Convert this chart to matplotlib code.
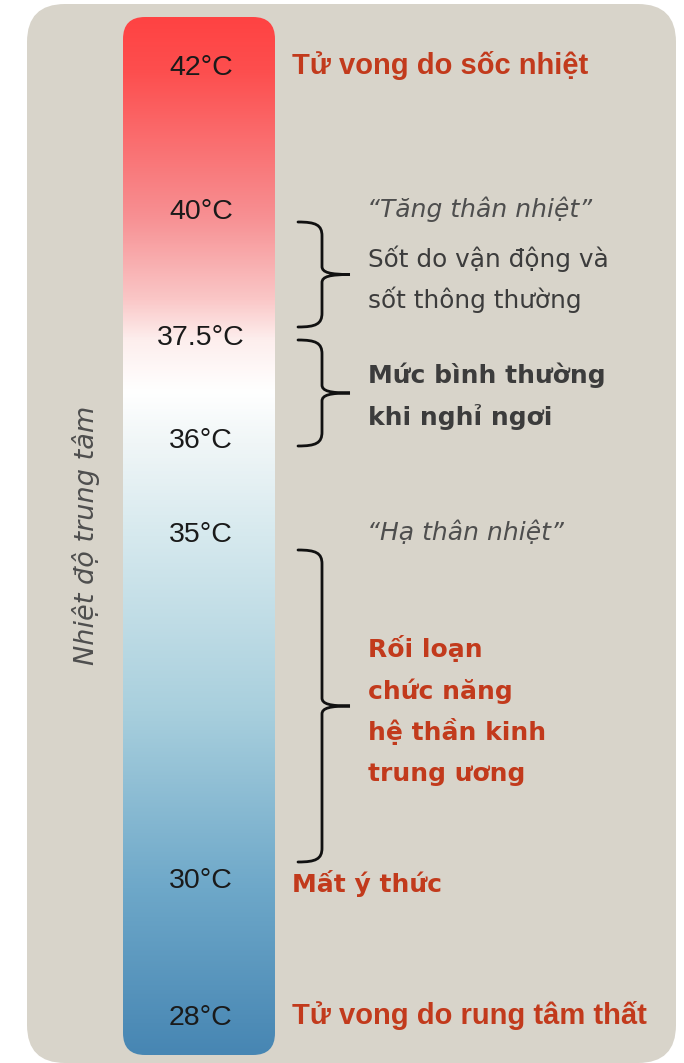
import numpy as np
import matplotlib
matplotlib.use('Agg')
import matplotlib.pyplot as plt
from matplotlib.patches import FancyBboxPatch, PathPatch
from matplotlib.path import Path
from matplotlib.colors import LinearSegmentedColormap

# ===================== DATA =====================
temps = [42, 40, 37.5, 36, 35, 30, 28]
temp_labels = ['42°C', '40°C', '37.5°C', '36°C', '35°C', '30°C', '28°C']

edge_labels = ['Tử vong do sốc nhiệt', 'Mất ý thức', 'Tử vong do rung tâm thất']
edge_temps = [42, 30, 28]

zone_titles = ['\u201cTăng thân nhiệt\u201d', '\u201cHạ thân nhiệt\u201d']
fever_lines = ['Sốt do vận động và', 'sốt thông thường']
normal_lines = ['Mức bình thường', 'khi nghỉ ngơi']
cns_lines = ['Rối loạn', 'chức năng', 'hệ thần kinh', 'trung ương']
axis_title = 'Nhiệt độ trung tâm'

# ===================== LAYOUT (pixels) =====================
W, H = 684, 1063
tick_y = [75, 219, 345, 448, 542, 888, 1025]       # baselines per temperature
y_of = dict(zip(temps, tick_y))
bar_x0, bar_x1, bar_y0, bar_y1 = 123, 275, 17, 1055
brace_spans = [(222, 327), (340, 446), (550, 862)]

RED = '#c23a1c'
GRAY = '#3c3c3c'
LIGHT = '#4e4e4e'

fig = plt.figure(figsize=(W / 100, H / 100), dpi=100)
fig.patch.set_facecolor('white')
ax = fig.add_axes([0, 0, 1, 1])
ax.set_xlim(0, W)
ax.set_ylim(H, 0)
ax.axis('off')

# ---------- background panel ----------
panel = FancyBboxPatch((27, 4), 649, 1059, boxstyle='round,pad=0,rounding_size=38',
                       facecolor='#d8d4ca', edgecolor='none')
ax.add_patch(panel)

# ---------- gradient bar ----------
stops = [(0.00, '#ff4343'), (0.05, '#fd4e4e'), (0.19, '#f78f92'), (0.27, '#fac6c6'),
         (0.31, '#fdeeed'), (0.36, '#ffffff'), (0.41, '#f0f6f7'), (0.50, '#d6e9ee'),
         (0.67, '#a8cfdd'), (0.84, '#6ea8c9'), (1.00, '#4786b3')]
cmap = LinearSegmentedColormap.from_list('temp', stops)
grad = np.linspace(0, 1, 512).reshape(-1, 1)
bar = FancyBboxPatch((bar_x0, bar_y0), bar_x1 - bar_x0, bar_y1 - bar_y0,
                     boxstyle='round,pad=0,rounding_size=22',
                     facecolor='none', edgecolor='none')
ax.add_patch(bar)
im = ax.imshow(grad, cmap=cmap, aspect='auto', interpolation='bicubic',
               extent=[bar_x0, bar_x1, bar_y1, bar_y0], zorder=2)
im.set_clip_path(bar)

# ---------- temperature labels ----------
for lab, y in zip(temp_labels, tick_y):
    ax.text((bar_x0 + bar_x1) / 2 + 2, y, lab, ha='center', va='baseline',
            fontsize=20.5, color='#1a1a1a', zorder=3, family='Liberation Sans')

# ---------- red edge labels ----------
for lab, t in zip(edge_labels, edge_temps):
    if lab == 'Mất ý thức':
        ax.text(292, y_of[t] + 4, lab, ha='left', va='baseline', fontsize=18,
                fontweight='bold', color=RED, family='DejaVu Sans')
    else:
        ax.text(292, y_of[t] - 1, lab, ha='left', va='baseline', fontsize=21,
                fontweight='bold', color=RED, family='Liberation Sans')

# ---------- braces ----------
def brace(y0, y1, xl=298, xs=322, xt=350):
    ym = (y0 + y1) / 2
    verts = [(xl, y0), (316, y0), (xs, y0 + 3), (xs, y0 + 14),
             (xs, ym - 8),
             (xs, ym - 2), (330, ym), (xt, ym),
             (330, ym), (xs, ym + 2), (xs, ym + 8),
             (xs, y1 - 14),
             (xs, y1 - 3), (316, y1), (xl, y1)]
    codes = [Path.MOVETO, Path.CURVE4, Path.CURVE4, Path.CURVE4,
             Path.LINETO,
             Path.CURVE4, Path.CURVE4, Path.CURVE4,
             Path.CURVE4, Path.CURVE4, Path.CURVE4,
             Path.LINETO,
             Path.CURVE4, Path.CURVE4, Path.CURVE4]
    ax.add_patch(PathPatch(Path(verts, codes), facecolor='none',
                           edgecolor='#111111', lw=2.0, capstyle='round'))

for y0, y1 in brace_spans:
    brace(y0, y1)

# ---------- zone texts ----------
ax.text(367, 217, zone_titles[0], fontsize=18, style='italic', color=LIGHT, va='baseline')
ax.text(367, 540, zone_titles[1], fontsize=18, style='italic', color=LIGHT, va='baseline')

for i, line in enumerate(fever_lines):
    ax.text(368, 267 + i * 41, line, fontsize=17.8, color=GRAY, va='baseline')
for i, line in enumerate(normal_lines):
    ax.text(368, 383 + i * 42, line, fontsize=18, fontweight='bold', color=GRAY, va='baseline')
for i, line in enumerate(cns_lines):
    ax.text(368, 657 + i * 41.5, line, fontsize=18, fontweight='bold', color=RED, va='baseline')

# ---------- vertical title ----------
ax.text(86, 535, axis_title, rotation=90, ha='center', va='center',
        fontsize=19.5, style='italic', color=LIGHT)

plt.savefig('out.png', dpi=100, facecolor=fig.get_facecolor())
plt.close()
